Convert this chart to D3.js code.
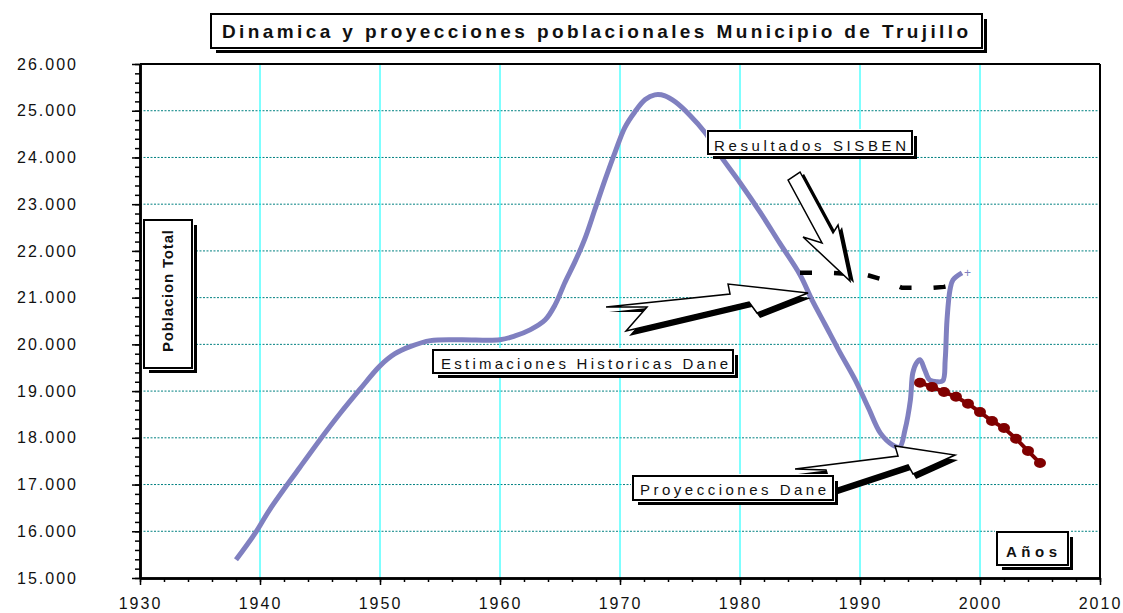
<!DOCTYPE html>
<html>
<head>
<meta charset="utf-8">
<script src="https://cdn.jsdelivr.net/npm/d3@7"></script>
<style>
  body { margin: 0; background: #fff; }
  svg { font-family: "Liberation Sans", Arial, sans-serif; }
</style>
</head>
<body>
<svg id="chart" width="1123" height="613"></svg>
<script>
// Estimaciones Historicas Dane
const histYears = [1938, 1939.6, 1940.8, 1943.3, 1945, 1946.7, 1948.3, 1950,
  1951.25, 1952.5, 1954.2, 1956.7, 1960, 1961.25, 1962.5, 1963.75, 1964.6, 1965.4,
  1966.25, 1967.1, 1967.9, 1968.75, 1969.6, 1970.4, 1971.25, 1972.1, 1972.9, 1973.75,
  1974.6, 1975.8, 1977.1, 1978.3, 1980, 1981.7, 1983.3, 1985, 1986, 1987.1,
  1988.3, 1989.6, 1990.7, 1991.7, 1992.7, 1993.3, 1993.75, 1994.2, 1994.4, 1994.7,
  1995, 1995.4, 1995.8, 1996.4, 1996.9, 1997.1, 1997.25, 1997.5, 1997.75, 1998.5];
const histValues = [15390, 15960, 16460, 17360, 17960, 18530, 19030, 19540,
  19800, 19950, 20080, 20100, 20100, 20180, 20310, 20520, 20850, 21320,
  21770, 22280, 22880, 23520, 24120, 24640, 24980, 25240, 25340, 25320,
  25190, 24910, 24530, 24060, 23460, 22820, 22170, 21490, 20950, 20420,
  19840, 19240, 18640, 18100, 17850, 17800, 18170, 18810, 19390, 19600,
  19670, 19450, 19240, 19200, 19220, 19670, 20520, 21170, 21380, 21530];

// Proyecciones Dane
const projYears = [1995, 1996, 1997, 1998, 1999, 2000, 2001, 2002, 2003, 2004, 2005];
const projValues = [19180, 19090, 18980, 18880, 18730, 18550, 18360, 18210, 17980, 17720, 17460];

// Resultados SISBEN
const sisbenYears = [1985, 1987.5, 1990.5, 1992, 1993.5, 1996, 1997, 1998.6];
const sisbenValues = [21530, 21530, 21490, 21380, 21210, 21210, 21230, 21320];

const xTicks = [1930, 1940, 1950, 1960, 1970, 1980, 1990, 2000, 2010];
const yTicks = [15000, 16000, 17000, 18000, 19000, 20000, 21000, 22000, 23000, 24000, 25000, 26000];

const svg = d3.select("#chart");
const x = d3.scaleLinear().domain([1930, 2010]).range([140, 1100]);
const y = d3.scaleLinear().domain([15000, 26000]).range([578, 64]);

const fmt = d3.formatLocale({decimal: ",", thousands: ".", grouping: [3], currency: ["$", ""]}).format(",");

// grid
svg.append("g").selectAll("line")
  .data(yTicks.slice(1, -1))
  .join("line")
  .attr("x1", x(1930)).attr("x2", x(2010))
  .attr("y1", d => y(d)).attr("y2", d => y(d))
  .attr("stroke", "#008080").attr("stroke-width", 1).attr("stroke-dasharray", "2,1.5");

svg.append("g").selectAll("line")
  .data(xTicks.slice(1, -1))
  .join("line")
  .attr("x1", d => x(d)).attr("x2", d => x(d))
  .attr("y1", y(26000)).attr("y2", y(15000))
  .attr("stroke", "#00ffff").attr("stroke-width", 1);

// frame top / right
svg.append("line").attr("x1", x(1930)).attr("x2", x(2010)).attr("y1", y(26000)).attr("y2", y(26000))
  .attr("stroke", "#000").attr("stroke-width", 2);
svg.append("line").attr("x1", x(2010)).attr("x2", x(2010)).attr("y1", y(26000)).attr("y2", y(15000))
  .attr("stroke", "#000").attr("stroke-width", 2);

// axes
const minorX = d3.range(1930, 2011, 2);
const minorY = d3.range(15000, 26001, 200);

svg.append("g").attr("transform", `translate(0,${y(15000)})`)
  .call(d3.axisBottom(x).tickValues(minorX).tickSize(4).tickSizeOuter(0).tickFormat(""));
const xAxis = svg.append("g").attr("transform", `translate(0,${y(15000)})`)
  .call(d3.axisBottom(x).tickValues(xTicks).tickSize(7).tickSizeOuter(0).tickPadding(13).tickFormat(d3.format("d")));

svg.append("g").attr("transform", `translate(${x(1930)},0)`)
  .call(d3.axisLeft(y).tickValues(minorY).tickSize(5).tickSizeOuter(0).tickFormat(""));
const yAxis = svg.append("g").attr("transform", `translate(${x(1930)},0)`)
  .call(d3.axisLeft(y).tickValues(yTicks).tickSize(8).tickSizeOuter(0).tickPadding(54).tickFormat(fmt));

svg.selectAll(".domain").attr("stroke-width", 2.5);
svg.selectAll(".tick line").attr("stroke-width", 1.5);
xAxis.selectAll("text").attr("font-size", 16).attr("letter-spacing", 2).attr("fill", "#111")
  .attr("font-family", "Liberation Sans, Arial, sans-serif");
yAxis.selectAll("text").attr("font-size", 16).attr("letter-spacing", 2).attr("fill", "#111")
  .attr("font-family", "Liberation Sans, Arial, sans-serif");

// series
const hist = histYears.map((d, i) => [d, histValues[i]]);
const proj = projYears.map((d, i) => [d, projValues[i]]);
const sisben = sisbenYears.map((d, i) => [d, sisbenValues[i]]);

const line = d3.line().x(d => x(d[0])).y(d => y(d[1]));

svg.append("path").datum(hist)
  .attr("d", line.curve(d3.curveCatmullRom.alpha(0.5)))
  .attr("fill", "none").attr("stroke", "#8080c0").attr("stroke-width", 5)
  .attr("stroke-linejoin", "round");
const last = hist[hist.length - 1];
svg.append("text").attr("x", x(last[0]) + 2).attr("y", y(last[1]) + 4)
  .attr("font-size", 12).attr("fill", "#8080c0").text("+");

svg.append("path").datum(sisben)
  .attr("d", line.curve(d3.curveLinear))
  .attr("fill", "none").attr("stroke", "#000").attr("stroke-width", 4.5)
  .attr("stroke-dasharray", "12,22");

svg.append("path").datum(proj)
  .attr("d", line.curve(d3.curveLinear))
  .attr("fill", "none").attr("stroke", "#800000").attr("stroke-width", 4);
svg.append("g").selectAll("ellipse")
  .data(proj)
  .join("ellipse")
  .attr("cx", d => x(d[0])).attr("cy", d => y(d[1]))
  .attr("rx", 6).attr("ry", 5)
  .attr("fill", "#800000");

// block arrows: tip anchored on the data, outline in pixel offsets from the tip
const arrows = [
  {year: 1989.17, value: 21356, sx: 4, sy: 2,
   pts: [[-62, -101], [-50, -109], [-17, -48], [-12, -56], [0, 0], [-47, -44], [-28, -38]]},
  {year: 1985.67, value: 21099, sx: 3, sy: 5,
   pts: [[-202, 14], [-78, 1], [-80, -9], [0, 0], [-51, 20], [-59, 9], [-182, 38], [-161, 14]]},
  {year: 1997.92, value: 17632, sx: 3, sy: 5,
   pts: [[-160, 14], [-57, 1], [-60, -9], [0, 0], [-42, 19], [-47, 10], [-123, 35], [-129, 15]]}
];

arrows.forEach(a => {
  const tx = x(a.year), ty = y(a.value);
  const p = a.pts.map(d => [tx + d[0], ty + d[1]].join(",")).join(" ");
  const ps = a.pts.map(d => [tx + d[0] + a.sx, ty + d[1] + a.sy].join(",")).join(" ");
  svg.append("polygon").attr("points", ps).attr("fill", "#000");
  svg.append("polygon").attr("points", p).attr("fill", "#fff")
    .attr("stroke", "#000").attr("stroke-width", 1.5).attr("stroke-linejoin", "miter");
});

// boxed labels with drop shadow
function boxLabel(bx, by, bw, bh, off) {
  svg.append("rect").attr("x", bx + off).attr("y", by + off).attr("width", bw).attr("height", bh).attr("fill", "#000");
  svg.append("rect").attr("x", bx).attr("y", by).attr("width", bw).attr("height", bh)
    .attr("fill", "#fff").attr("stroke", "#fff").attr("stroke-width", 4);
  svg.append("rect").attr("x", bx).attr("y", by).attr("width", bw).attr("height", bh)
    .attr("fill", "none").attr("stroke", "#000").attr("stroke-width", 2);
}

function label(tx, ty, txt, size, weight, len) {
  return svg.append("text").attr("x", tx).attr("y", ty)
    .attr("font-size", size).attr("font-weight", weight).attr("fill", "#111")
    .attr("textLength", len).attr("lengthAdjust", "spacing").text(txt);
}

boxLabel(211, 14, 771, 34, 5);
label(222, 38, "Dinamica y proyecciones poblacionales Municipio de Trujillo", 19, "bold", 746);

boxLabel(708, 131, 204, 23, 5);
label(714, 151, "Resultados SISBEN", 15, "normal", 192);

boxLabel(433, 350, 300, 23, 5);
label(441, 369, "Estimaciones Historicas Dane", 15, "normal", 287);

boxLabel(633, 476, 200, 24, 5);
label(640, 495, "Proyecciones Dane", 15, "normal", 186);

boxLabel(997, 532, 71, 33, 5);
label(1006, 557, "Años", 15, "bold", 51);

boxLabel(144, 220, 48, 148, 5);
svg.append("text").attr("transform", "translate(173,352) rotate(-90)")
  .attr("font-size", 15).attr("font-weight", "bold").attr("fill", "#111")
  .attr("textLength", 122).attr("lengthAdjust", "spacing").text("Poblacion Total");
</script>
</body>
</html>
